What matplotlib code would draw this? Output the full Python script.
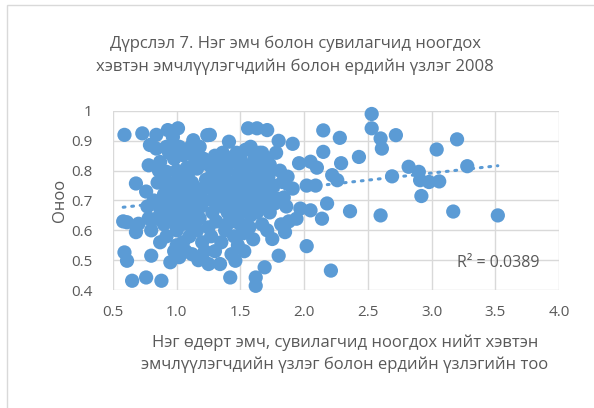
import numpy as np
import matplotlib.pyplot as plt
from matplotlib.patches import Rectangle

plt.rcParams['font.family'] = ['Open Sans', 'DejaVu Sans']

# Нэг өдөрт ноогдох үзлэгийн тоо (x) ба оноо (y), зургаас уншсан утгууд
x_vals = [
    0.59, 0.58, 0.61, 0.70, 0.68, 0.59, 0.61, 0.65, 0.68, 0.73, 0.76,
    0.76, 0.78, 0.79, 0.84, 0.84, 0.80, 0.84, 0.88, 0.77, 0.78, 0.80, 0.82, 0.85,
    0.87, 0.92, 0.93, 0.97, 0.87, 0.87, 0.95, 0.90, 0.90, 0.92, 0.95, 0.95, 0.98,
    0.97, 0.98, 1.00, 1.00, 0.90,
    1.01, 1.05, 1.13, 1.04, 1.03, 1.05, 1.05, 1.02, 1.08, 1.08, 1.10, 1.10, 1.12,
    1.12, 1.13, 1.00,
    1.16, 1.24, 1.26, 1.18, 1.20, 1.18, 1.22, 1.20, 1.25, 1.25, 1.28, 1.28, 1.30,
    1.16, 1.22, 1.27,
    1.34, 1.37, 1.41, 1.40, 1.42, 1.35, 1.33, 1.38, 1.36, 1.42, 1.44, 1.45, 1.35,
    1.40, 1.44,
    1.46, 1.58, 1.58, 1.56, 1.50, 1.48, 1.52, 1.55, 1.50, 1.48, 1.55, 1.58, 1.52,
    1.56, 1.60, 1.60,
    1.63, 1.71, 1.62, 1.62, 1.69, 1.75, 1.65, 1.66, 1.64, 1.70, 1.67, 1.72, 1.70,
    1.65, 1.74,
    1.80, 1.91, 1.78, 1.81, 1.83, 1.91, 1.79, 1.85, 1.80, 1.94, 1.96, 1.97, 1.86,
    1.88, 1.82,
    2.02, 2.02, 2.05, 2.05, 2.09, 2.10, 2.14, 2.15, 2.15, 2.18, 2.21, 2.22, 2.26,
    2.28, 2.29, 2.36, 2.43, 2.53, 2.53, 2.60, 2.61, 2.72, 2.60, 2.69, 2.82, 2.90,
    2.91, 2.98, 3.06, 2.92, 3.04, 3.20, 3.28, 3.17, 3.52,
    # өтгөн хэсэг
    0.88, 0.93, 0.96, 1.03, 1.06, 1.09, 1.11, 1.15, 1.14, 1.16, 1.19, 1.23, 1.25,
    1.27, 1.29, 1.31, 1.33, 1.36, 1.39, 1.41, 1.43, 1.46, 1.47, 1.49, 1.51, 1.53,
    1.54, 1.57, 1.59, 1.61, 1.63, 1.66, 1.68, 1.69, 1.71, 1.73, 1.76, 1.77, 1.84,
    1.87, 0.94, 1.00, 1.04, 1.07, 1.12, 1.17, 1.30, 1.38, 1.43, 1.53, 1.57, 1.13,
    1.21, 0.98, 1.46,
    0.85, 0.86, 0.91, 0.92, 0.99, 1.02, 1.06, 1.09, 1.34, 1.39, 1.48, 1.50, 1.62,
    1.64, 1.67, 1.73,
]
y_vals = [
    0.92, 0.63, 0.627, 0.622, 0.594, 0.526, 0.498, 0.431, 0.757, 0.925, 0.442,
    0.73, 0.818, 0.886, 0.92, 0.874, 0.515, 0.639, 0.431, 0.68, 0.64, 0.60, 0.70, 0.76,
    0.829, 0.796, 0.936, 0.913, 0.672, 0.56, 0.493, 0.72, 0.62, 0.58, 0.68, 0.75, 0.53,
    0.63, 0.84, 0.70, 0.60, 0.76,
    0.942, 0.852, 0.902, 0.78, 0.74, 0.66, 0.56, 0.51, 0.81, 0.71, 0.62, 0.58, 0.76,
    0.68, 0.85, 0.55,
    0.807, 0.919, 0.92, 0.88, 0.74, 0.64, 0.70, 0.56, 0.487, 0.61, 0.66, 0.79, 0.85,
    0.72, 0.53, 0.58,
    0.487, 0.852, 0.897, 0.622, 0.442, 0.72, 0.80, 0.77, 0.68, 0.70, 0.83, 0.58, 0.56,
    0.66, 0.76,
    0.498, 0.65, 0.88, 0.942, 0.84, 0.79, 0.72, 0.68, 0.62, 0.55, 0.78, 0.82, 0.59,
    0.74, 0.70, 0.57,
    0.942, 0.936, 0.442, 0.414, 0.476, 0.571, 0.80, 0.76, 0.72, 0.68, 0.62, 0.78, 0.84,
    0.86, 0.72,
    0.90, 0.89, 0.86, 0.80, 0.762, 0.74, 0.706, 0.594, 0.515, 0.639, 0.825, 0.673, 0.68,
    0.63, 0.62,
    0.547, 0.75, 0.83, 0.667, 0.75, 0.81, 0.639, 0.935, 0.863, 0.69, 0.465, 0.785, 0.768,
    0.91, 0.825, 0.664, 0.846, 0.99, 0.942, 0.908, 0.874, 0.919, 0.65, 0.781, 0.813, 0.796,
    0.768, 0.762, 0.764, 0.715, 0.871, 0.905, 0.815, 0.663, 0.65,
    0.70, 0.66, 0.72, 0.69, 0.75, 0.79, 0.88, 0.84, 0.65, 0.60, 0.68, 0.77, 0.82,
    0.74, 0.70, 0.63, 0.76, 0.86, 0.80, 0.74, 0.66, 0.71, 0.86, 0.75, 0.66, 0.81,
    0.87, 0.71, 0.77, 0.84, 0.66, 0.70, 0.81, 0.74, 0.60, 0.66, 0.75, 0.69, 0.71,
    0.78, 0.86, 0.80, 0.62, 0.53, 0.52, 0.50, 0.53, 0.60, 0.52, 0.53, 0.61, 0.72,
    0.84, 0.76, 0.63,
    0.64, 0.80, 0.68, 0.88, 0.66, 0.88, 0.70, 0.64, 0.83, 0.71, 0.68, 0.80, 0.76,
    0.80, 0.86, 0.82,
]
x_vals = np.array(x_vals)
y_vals = np.array(y_vals)

title = 'Дүрслэл 7. Нэг эмч болон сувилагчид ноогдох\nхэвтэн эмчлүүлэгчдийн болон ердийн үзлэг 2008'
x_title = 'Нэг өдөрт эмч, сувилагчид ноогдох нийт хэвтэн\nэмчлүүлэгчдийн үзлэг болон ердийн үзлэгийн тоо'
y_title = 'Оноо'
r2_text = 'R² = 0.0389'

blue = '#5B9BD5'
grid_c = '#D9D9D9'
text_c = '#595959'

fig = plt.figure(figsize=(5.94, 4.08), dpi=100)
fig.patches.append(Rectangle((7 / 594, -0.1), 1.2, (408 - 5) / 408 + 0.1,
                             transform=fig.transFigure, fill=False,
                             edgecolor='#D9D9D9', linewidth=1))
ax = fig.add_axes([113 / 594, (408 - 290) / 408, (559 - 113) / 594, (290 - 111) / 408])

ax.scatter(x_vals, y_vals, s=105, color=blue, edgecolors='none', zorder=3, clip_on=False)

# линейн тренд
p = np.poly1d(np.polyfit(x_vals, y_vals, deg=1))
xt = np.array([x_vals.min(), x_vals.max()])
ax.plot(xt, p(xt), color=blue, linewidth=2.2, linestyle=(0, (0.6, 2.2)),
        dash_capstyle='round', zorder=4)

ax.set_xlim(0.5, 4.0)
ax.set_ylim(0.4, 1.0)
ax.set_xticks(np.arange(0.5, 4.01, 0.5))
ax.set_xticklabels(['%.1f' % v for v in np.arange(0.5, 4.01, 0.5)])
ax.set_yticks([0.4, 0.5, 0.6, 0.7, 0.8, 0.9, 1.0])
ax.set_yticklabels(['0.4', '0.5', '0.6', '0.7', '0.8', '0.9', '1'])
ax.grid(True, color=grid_c, linewidth=1, zorder=0)
ax.set_axisbelow(True)
for s in ax.spines.values():
    s.set_visible(False)
ax.tick_params(length=0, labelsize=11, colors=text_c)
ax.tick_params(axis='x', pad=11)
ax.tick_params(axis='y', pad=15)

ax.text(3.52, 0.49, r2_text, ha='center', va='center', fontsize=11.5, color=text_c)

fig.text(0.497, 1 - 55 / 408, title, ha='center', va='center', fontsize=12,
         color=text_c, linespacing=1.55)
ax.set_xlabel(x_title, fontsize=12, color=text_c, linespacing=1.45)
ax.xaxis.set_label_coords((345 - 113) / 446, -(354 - 290) / 179, transform=ax.transAxes)
ax.xaxis.label.set_va('center')
ax.set_ylabel(y_title, fontsize=12, color=text_c)
ax.yaxis.set_label_coords(-(113 - 68) / 446, 0.5)

fig.savefig('out.png', dpi=100)
